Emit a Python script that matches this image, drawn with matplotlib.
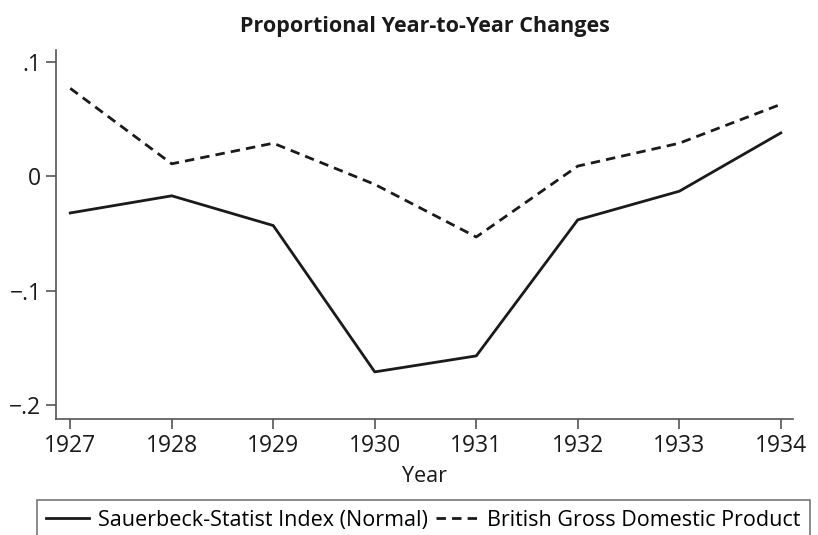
import matplotlib.pyplot as plt

# data
years = [1927, 1928, 1929, 1930, 1931, 1932, 1933, 1934]
sauerbeck = [-0.032, -0.017, -0.043, -0.171, -0.157, -0.038, -0.013, 0.038]
gdp = [0.077, 0.011, 0.029, -0.007, -0.053, 0.009, 0.029, 0.063]
yticks = [-0.2, -0.1, 0, 0.1]
ytick_labels = ["\u2212.2", "\u2212.1", "0", ".1"]

plt.rcParams["font.family"] = ["Open Sans", "DejaVu Sans"]

fig = plt.figure(figsize=(8.18, 5.35), dpi=100)
ax = fig.add_axes([0.0685, 0.2168, 0.9009, 0.6897])

ax.plot(years, sauerbeck, color="#1a1a1a", lw=2.0, label="Sauerbeck-Statist Index (Normal)")
ax.plot(years, gdp, color="#1a1a1a", lw=2.0, ls=(0, (3.4, 2.2)), label="British Gross Domestic Product")

ax.set_xlim(1926.86, 1934.12)
ax.set_ylim(-0.2122, 0.1105)
ax.set_xticks(years)
ax.set_yticks(yticks)
ax.set_yticklabels(ytick_labels)

for side in ["top", "right"]:
    ax.spines[side].set_visible(False)
for side in ["left", "bottom"]:
    ax.spines[side].set_color("#555555")
    ax.spines[side].set_linewidth(1.2)
ax.tick_params(colors="#555555", labelcolor="#1a1a1a", length=7, width=1.2,
               labelsize=16.5, direction="out")

ax.set_xlabel("Year", fontsize=15.5, color="#1a1a1a", labelpad=6)
ax.set_title("Proportional Year-to-Year Changes", fontsize=15.5, fontweight="bold",
             color="#1a1a1a", pad=13)

leg = fig.legend(loc="upper center", bbox_to_anchor=(423.5 / 818, 1 - 500 / 535),
                 ncol=2, fontsize=15.5, frameon=True, fancybox=False,
                 handlelength=2.0, handletextpad=0.4, columnspacing=0.35,
                 borderaxespad=0, borderpad=0.45)
leg.get_frame().set_edgecolor("#555555")
leg.get_frame().set_linewidth(1.2)

fig.savefig("out.png", dpi=100)
